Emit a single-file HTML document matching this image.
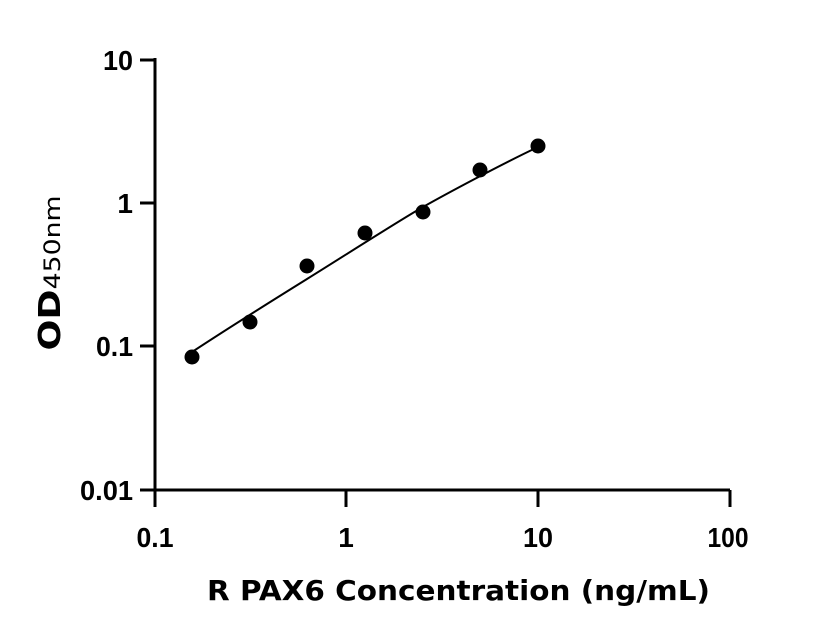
<!DOCTYPE html>
<html><head><style>body{margin:0;background:#fff}svg{display:block}</style></head><body>
<svg width="816" height="640" xmlns="http://www.w3.org/2000/svg" font-family="DejaVu Sans, sans-serif" font-weight="bold">
<g stroke="#000" stroke-width="3" fill="none">
<path d="M155,58 V490 H730"/>
<path d="M140,60 H155 M140,203 H155 M140,346 H155 M140,490 H155"/>
<path d="M155,490 V507 M346,490 V507 M538,490 V507 M730,490 V507"/>
</g>
<g font-size="28" font-family="Liberation Sans, sans-serif" text-anchor="end">
<text x="133" y="70" textLength="30" lengthAdjust="spacingAndGlyphs">10</text>
<text x="133" y="213">1</text>
<text x="133" y="356" textLength="37" lengthAdjust="spacingAndGlyphs">0.1</text>
<text x="133" y="500" textLength="53" lengthAdjust="spacingAndGlyphs">0.01</text>
</g>
<g font-size="28" font-family="Liberation Sans, sans-serif" text-anchor="middle">
<text x="155" y="547" textLength="37" lengthAdjust="spacingAndGlyphs">0.1</text>
<text x="346" y="547">1</text>
<text x="538" y="547" textLength="30" lengthAdjust="spacingAndGlyphs">10</text>
<text x="728" y="547" textLength="41" lengthAdjust="spacingAndGlyphs">100</text>
</g>
<text x="207" y="600" font-size="28" textLength="503" lengthAdjust="spacingAndGlyphs">R PAX6 Concentration (ng/mL)</text>
<text transform="translate(60,273) rotate(-90)" font-size="30" text-anchor="middle" textLength="155" lengthAdjust="spacingAndGlyphs">OD<tspan font-size="22" font-weight="normal">450nm</tspan></text>
<path d="M192,352 C230,327 270,302 307,279 S400,220 423,207 S500,165 538,147" stroke="#000" stroke-width="2" fill="none"/>
<g fill="#000">
<circle cx="192" cy="357" r="7.5"/><circle cx="250" cy="322" r="7.5"/><circle cx="307" cy="266" r="7.5"/>
<circle cx="365" cy="233" r="7.5"/><circle cx="423" cy="212" r="7.5"/><circle cx="480" cy="170" r="7.5"/>
<circle cx="538" cy="146" r="7.5"/>
</g>
</svg>
</body></html>
